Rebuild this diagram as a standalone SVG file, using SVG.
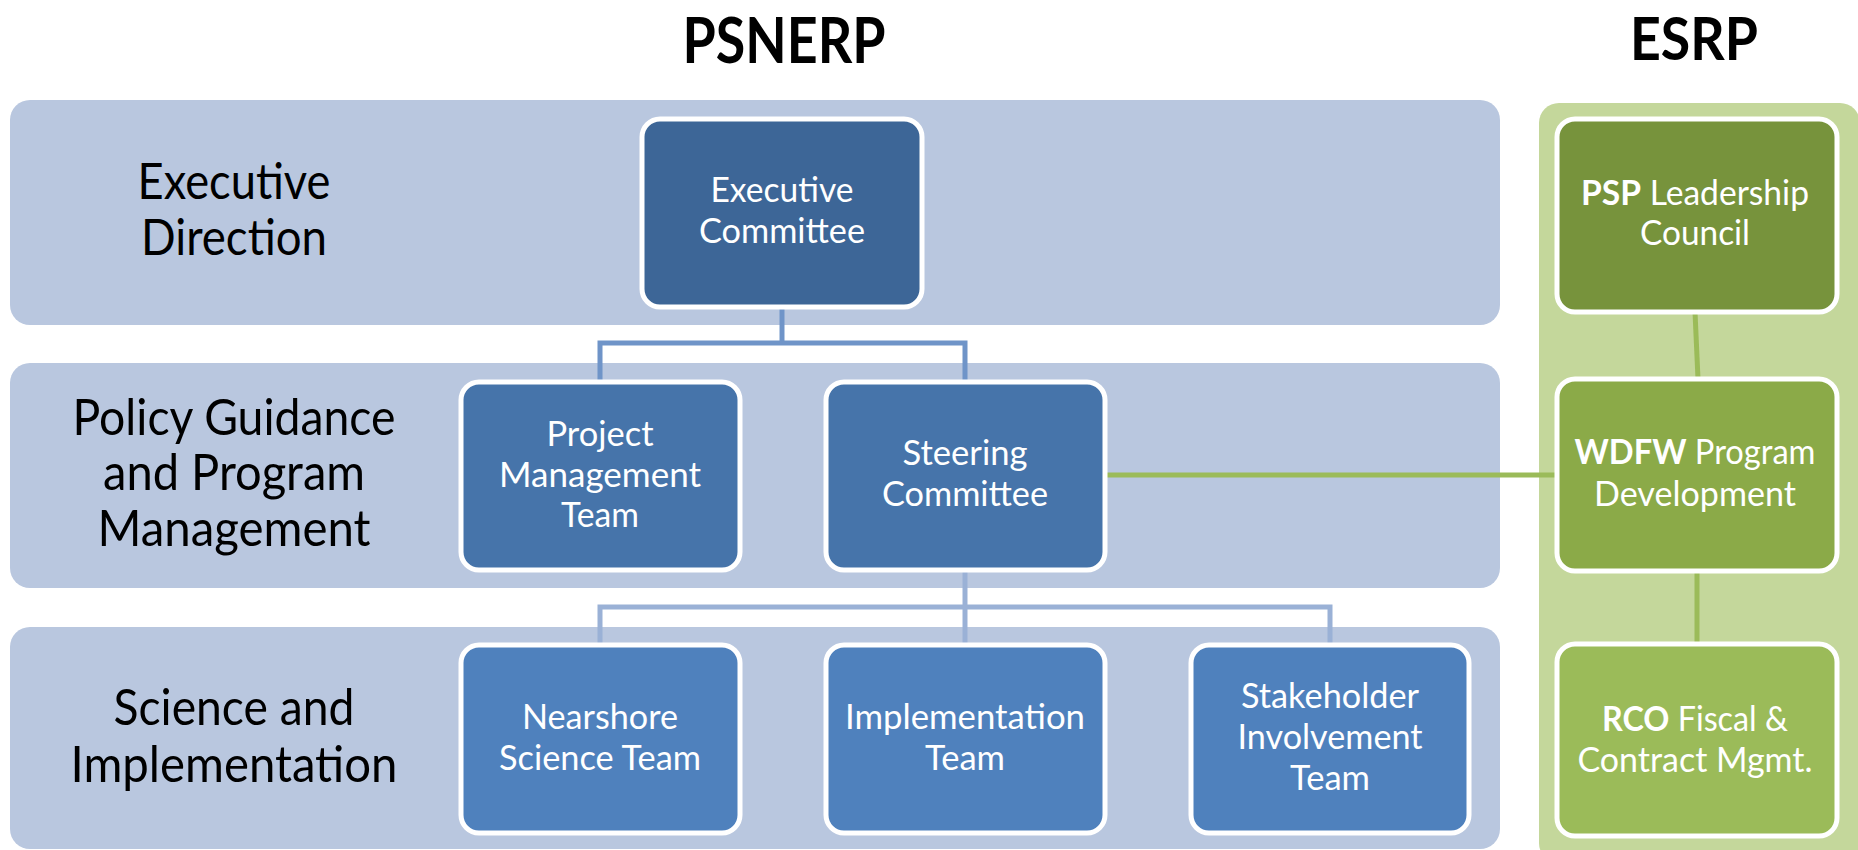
<svg xmlns="http://www.w3.org/2000/svg" width="1858" height="850" viewBox="0 0 1858 850">
<style>
.band{fill:#B9C7DF}
.gband{fill:#C4D79B}
.box{stroke:#FFFFFF;stroke-width:5}
.b1{fill:#3D6697}.b2{fill:#4674AA}.b3{fill:#4F81BD}
.g1{fill:#77933C}.g2{fill:#8BAA48}.g3{fill:#9BBB59}
text{font-family:Lato,"Liberation Sans",sans-serif}
.lab{font-size:50px;fill:#000;text-anchor:middle}
.bt{font-size:34px;fill:#FFFFFF;text-anchor:middle}
.title{font-size:63px;font-weight:bold;fill:#000;text-anchor:middle}
.c1{stroke:#6F94C8;stroke-width:5;fill:none}
.c2{stroke:#9AB1D6;stroke-width:5;fill:none}
.c3{stroke:#9BBB59;stroke-width:5;fill:none}
</style>

<g id="titles">
<text class="title" x="784" y="63" textLength="203" lengthAdjust="spacingAndGlyphs">PSNERP</text>
<text class="title" x="1694" y="60" style="font-size:59px" textLength="128" lengthAdjust="spacingAndGlyphs">ESRP</text>
</g>

<g id="bands">
<rect class="band" x="10" y="100" width="1490" height="225" rx="20"/>
<rect class="band" x="10" y="363" width="1490" height="225" rx="20"/>
<rect class="band" x="10" y="627" width="1490" height="222" rx="20"/>
<rect class="gband" x="1539" y="103" width="321" height="760" rx="20"/>
</g>

<g id="row-labels">
<text class="lab" x="234" y="199" textLength="193" lengthAdjust="spacingAndGlyphs">Executive</text>
<text class="lab" x="234" y="255" textLength="186" lengthAdjust="spacingAndGlyphs">Direction</text>
<text class="lab" x="234" y="435" textLength="323" lengthAdjust="spacingAndGlyphs">Policy Guidance</text>
<text class="lab" x="234" y="490" textLength="262" lengthAdjust="spacingAndGlyphs">and Program</text>
<text class="lab" x="234" y="546" textLength="273" lengthAdjust="spacingAndGlyphs">Management</text>
<text class="lab" x="234" y="725" textLength="241" lengthAdjust="spacingAndGlyphs">Science and</text>
<text class="lab" x="234" y="782" textLength="327" lengthAdjust="spacingAndGlyphs">Implementation</text>
</g>

<g id="connectors">
<polyline class="c1" points="782,307 782,343"/>
<polyline class="c1" points="600,382 600,343 965,343 965,382"/>
<polyline class="c2" points="965,570 965,645"/>
<polyline class="c2" points="600,645 600,607 1330,607 1330,645"/>
<line class="c3" x1="1105" y1="475" x2="1557" y2="475"/>
<line class="c3" x1="1695" y1="312" x2="1698" y2="379"/>
<line class="c3" x1="1697" y1="571" x2="1697" y2="644"/>
</g>

<g id="executive-committee">
<rect class="box b1" x="642" y="119" width="280" height="188" rx="18"/>
<text class="bt" x="782" y="202" textLength="143" lengthAdjust="spacingAndGlyphs">Executive</text>
<text class="bt" x="782" y="243" textLength="166" lengthAdjust="spacingAndGlyphs">Committee</text>
</g>

<g id="project-management-team">
<rect class="box b2" x="461" y="382" width="279" height="188" rx="18"/>
<text class="bt" x="600" y="446" textLength="107" lengthAdjust="spacingAndGlyphs">Project</text>
<text class="bt" x="600" y="487" textLength="202" lengthAdjust="spacingAndGlyphs">Management</text>
<text class="bt" x="600" y="527" textLength="78" lengthAdjust="spacingAndGlyphs">Team</text>
</g>

<g id="steering-committee">
<rect class="box b2" x="826" y="382" width="279" height="188" rx="18"/>
<text class="bt" x="965" y="465" textLength="125" lengthAdjust="spacingAndGlyphs">Steering</text>
<text class="bt" x="965" y="506" textLength="166" lengthAdjust="spacingAndGlyphs">Committee</text>
</g>

<g id="nearshore-science-team">
<rect class="box b3" x="461" y="645" width="279" height="188" rx="18"/>
<text class="bt" x="600" y="729" textLength="156" lengthAdjust="spacingAndGlyphs">Nearshore</text>
<text class="bt" x="600" y="770" textLength="202" lengthAdjust="spacingAndGlyphs">Science Team</text>
</g>

<g id="implementation-team">
<rect class="box b3" x="826" y="645" width="279" height="188" rx="18"/>
<text class="bt" x="965" y="729" textLength="240" lengthAdjust="spacingAndGlyphs">Implementation</text>
<text class="bt" x="965" y="770" textLength="80" lengthAdjust="spacingAndGlyphs">Team</text>
</g>

<g id="stakeholder-involvement-team">
<rect class="box b3" x="1191" y="645" width="278" height="188" rx="18"/>
<text class="bt" x="1330" y="708" textLength="178" lengthAdjust="spacingAndGlyphs">Stakeholder</text>
<text class="bt" x="1330" y="749" textLength="185" lengthAdjust="spacingAndGlyphs">Involvement</text>
<text class="bt" x="1330" y="790" textLength="80" lengthAdjust="spacingAndGlyphs">Team</text>
</g>

<g id="psp-leadership-council">
<rect class="box g1" x="1557" y="119" width="280" height="193" rx="18"/>
<text class="bt" x="1695" y="205" textLength="228" lengthAdjust="spacingAndGlyphs"><tspan font-weight="bold">PSP</tspan> Leadership</text>
<text class="bt" x="1695" y="245" textLength="110" lengthAdjust="spacingAndGlyphs">Council</text>
</g>

<g id="wdfw-program-development">
<rect class="box g2" x="1557" y="379" width="280" height="192" rx="18"/>
<text class="bt" x="1695" y="464" textLength="241" lengthAdjust="spacingAndGlyphs"><tspan font-weight="bold">WDFW</tspan> Program</text>
<text class="bt" x="1695" y="506" textLength="202" lengthAdjust="spacingAndGlyphs">Development</text>
</g>

<g id="rco-fiscal-contract">
<rect class="box g3" x="1557" y="644" width="280" height="192" rx="18"/>
<text class="bt" x="1695" y="731" textLength="186" lengthAdjust="spacingAndGlyphs"><tspan font-weight="bold">RCO</tspan> Fiscal &amp;</text>
<text class="bt" x="1695" y="772" textLength="235" lengthAdjust="spacingAndGlyphs">Contract Mgmt.</text>
</g>
</svg>
